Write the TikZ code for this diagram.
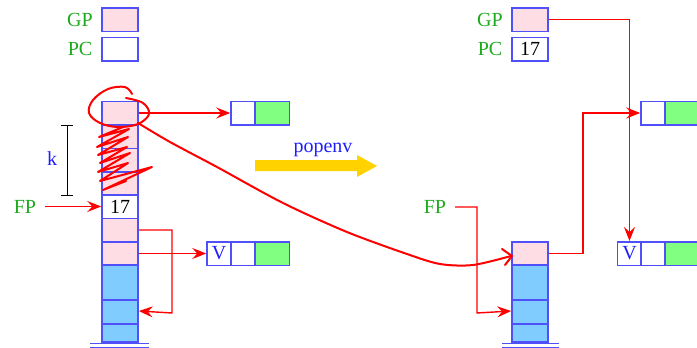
\documentclass[tikz,border=0pt]{standalone}
\usepackage{fontspec}
\setmainfont{Liberation Serif}
\usetikzlibrary{arrows.meta}
\definecolor{boxblue}{RGB}{80,80,250}
\definecolor{cellpink}{RGB}{255,221,228}
\definecolor{cellgreen}{RGB}{128,255,128}
\definecolor{cellblue}{RGB}{128,204,255}
\definecolor{labgreen}{RGB}{30,170,30}
\definecolor{txtblue}{RGB}{30,30,255}
\definecolor{arrowyellow}{RGB}{255,210,0}
\definecolor{ptrred}{RGB}{255,0,0}
\tikzset{
  cell/.style={draw=boxblue, line width=0.75pt, minimum width=18pt, minimum height=11.75pt, inner sep=0pt, font=\fontsize{10}{12}\selectfont},
  pinkcell/.style={cell, fill=cellpink},
  bluecell/.style={cell, fill=cellblue},
  greencell/.style={cell, fill=cellgreen, minimum width=17pt},
  smallcell/.style={cell, minimum width=12pt},
  reglabel/.style={text=labgreen, font=\fontsize{10}{12}\selectfont, inner sep=1pt},
  ptr/.style={color=ptrred, line width=0.7pt, -{Stealth[length=7pt,width=5.5pt,inset=2.5pt]}},
  hand/.style={color=ptrred, line width=1pt, line cap=round, line join=round},
  ground/.style={draw=boxblue, line width=0.75pt},
}
\begin{document}
\begin{tikzpicture}[x=0.5pt,y=-0.5pt]
\useasboundingbox (0,0) rectangle (697,348);
% ---------- left part ----------
\node[reglabel] (gpL) at (80,19.5) {GP};
\node[reglabel] (pcL) at (80,49) {PC};
\node[pinkcell] (gpbL) at (120,19.5) {};
\node[cell] (pcbL) at (120,49) {};
% left stack
\node[pinkcell] (c0) at (120,113) {};
\node[pinkcell] (c1) at (120,136.5) {};
\node[pinkcell] (c2) at (120,160) {};
\node[pinkcell] (c3) at (120,183.5) {};
\node[cell] (c4) at (120,206.5) {17};
\node[pinkcell] (c5) at (120,230) {};
\node[pinkcell] (c6) at (120,253.5) {};
\node[bluecell, minimum height=17.5pt] (c7) at (120,282.5) {};
\node[bluecell] (c8) at (120,312) {};
\node[bluecell, minimum height=9pt] (c9) at (120,333) {};
\coordinate (gl1) at (90,343.5); \coordinate (gr1) at (149,343.5);
\coordinate (gl2) at (90,347.5); \coordinate (gr2) at (149,347.5);
\draw[ground] (gl1) -- (gr1); \draw[ground] (gl2) -- (gr2);
% k bracket
\coordinate (kt) at (67,125); \coordinate (kb) at (67,195);
\draw[black, line width=0.5pt] (kt) -- (kb);
\draw[black, line width=0.5pt] ([xshift=-3pt]kt) -- ([xshift=3pt]kt);
\draw[black, line width=0.5pt] ([xshift=-3pt]kb) -- ([xshift=3pt]kb);
\node[text=txtblue, font=\fontsize{10}{12}\selectfont] (k) at (52,159) {k};
% FP left
\node[reglabel] (fpL) at (25,206.5) {FP};
\draw[ptr] (fpL.east) ++(6,0) -- (c4.west);
% pair from top cell
\node[cell, minimum width=12pt] (a1) at (243,113) {};
\node[greencell] (a2) at (272.5,113) {};
\draw[ptr] (c0.east) -- (a1.west);
% V box left
\node[smallcell, text=txtblue] (v0) at (219,253.5) {V};
\node[smallcell] (v1) at (243,253.5) {};
\node[greencell] (v2) at (272.5,253.5) {};
\draw[ptr] (c6.east) -- (v0.west);
\draw[ptr] (c5.east) -- (172,230) -- (172,313) -- ([yshift=0.5pt]c8.east);
% popenv
\node[text=txtblue, font=\fontsize{10}{12}\selectfont] (pop) at (323,150) {popenv};
\fill[arrowyellow] (255,160) -- (357,160) -- (357,155) -- (377,166) -- (357,177) -- (357,171) -- (255,171) -- cycle;
% ---------- right part ----------
\node[reglabel] (gpR) at (490,19.5) {GP};
\node[reglabel] (pcR) at (490,49) {PC};
\node[pinkcell] (gpbR) at (530,19.5) {};
\node[cell] (pcbR) at (530,49) {17};
\node[pinkcell] (r0) at (530,253.5) {};
\node[bluecell, minimum height=17.5pt] (r1) at (530,282.5) {};
\node[bluecell] (r2) at (530,312) {};
\node[bluecell, minimum height=9pt] (r3) at (530,333) {};
\coordinate (gl3) at (502,343.5); \coordinate (gr3) at (559,343.5);
\coordinate (gl4) at (502,347.5); \coordinate (gr4) at (559,347.5);
\draw[ground] (gl3) -- (gr3); \draw[ground] (gl4) -- (gr4);
\node[smallcell] (b1) at (653,113) {};
\node[greencell] (b2) at (682,113) {};
\node[smallcell, text=txtblue] (w0) at (629.5,253.5) {V};
\node[smallcell] (w1) at (653,253.5) {};
\node[greencell] (w2) at (682,253.5) {};
\draw[ptr] (gpbR.east) -- (629.5,19.5) -- (w0.north);
\draw[ptr] (r0.east) -- (583,253.5) -- (583,113) -- (b1.west);
\node[reglabel] (fpR) at (435,206.5) {FP};
\draw[ptr] (455,207) -- (477,207) -- (477,313) -- ([yshift=0.5pt]r2.west);
% ---------- hand-drawn annotations ----------
\draw[hand] plot[smooth, tension=0.6] coordinates {(132,94) (125,87) (108,89) (93,100) (89,113) (100,123) (118,127) (138,124) (149,114) (143,103) (126,98)};
\draw[hand] (123,127) -- (99,137) -- (129,129) -- (97,147) -- (128,137) -- (98,155) -- (127,147) -- (100,163) -- (130,153) -- (98,172) -- (128,163) -- (100,181) -- (152,167) -- (103,190) -- (126,181);
\draw[hand] plot[smooth, tension=0.5] coordinates {(138,123) (170,142) (217,167) (283,203) (347,232) (407,254) (440,264) (473,265) (511,256)};
\draw[hand] (502,249) -- (512,256) -- (505,265);
\end{tikzpicture}
\end{document}
